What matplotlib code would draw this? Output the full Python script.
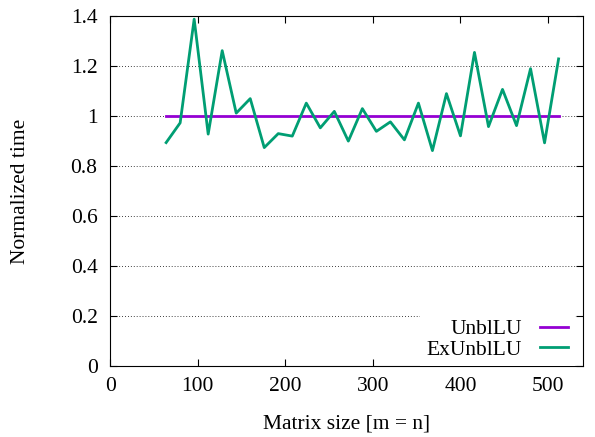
import numpy as np
import matplotlib.pyplot as plt

plt.rcParams['font.family'] = ['Liberation Serif', 'DejaVu Serif']
plt.rcParams['font.size'] = 15.5

sizes = np.arange(64, 513, 16)
unbl = [1.0] * len(sizes)
ex_unbl = [0.894, 0.973, 1.388, 0.928, 1.262, 1.012, 1.070, 0.874, 0.930, 0.920,
           1.052, 0.953, 1.019, 0.900, 1.030, 0.939, 0.977, 0.905, 1.052, 0.862,
           1.090, 0.921, 1.255, 0.958, 1.107, 0.962, 1.190, 0.893, 1.229]

fig = plt.figure(figsize=(5.95, 4.37), dpi=100)
ax = fig.add_axes([0.185, 0.1625, 0.795, 0.8005])

ax.plot(sizes, unbl, color='#9400D3', lw=2.0, label='UnblLU')
ax.plot(sizes, ex_unbl, color='#009E73', lw=2.0, label='ExUnblLU')

ax.set_xlim(0, 540)
ax.set_ylim(0, 1.4)
ax.set_xticks([0, 100, 200, 300, 400, 500])
ax.set_yticks([0, 0.2, 0.4, 0.6, 0.8, 1.0, 1.2, 1.4])
ax.set_yticklabels(['0', '0.2', '0.4', '0.6', '0.8', '1', '1.2', '1.4'])
ax.tick_params(axis='y', direction='in', right=True, length=5, width=0.8, pad=9)
ax.tick_params(axis='x', direction='in', top=True, length=5, width=0.8, pad=8)
ax.yaxis.grid(True, color='black', linestyle=(0, (1, 2.5)), linewidth=0.6)
ax.set_axisbelow(True)

ax.set_xlabel('Matrix size [m = n]', labelpad=13)
ax.set_ylabel('Normalized time', labelpad=29)

ax.legend(loc='lower right', bbox_to_anchor=(0.982, 0.0), markerfirst=False,
          frameon=True, fancybox=False, edgecolor='none', framealpha=1,
          handlelength=1.3, handletextpad=0.85, borderaxespad=0.0,
          labelspacing=0.0, borderpad=0.3)

fig.savefig('out.png', dpi=100)
